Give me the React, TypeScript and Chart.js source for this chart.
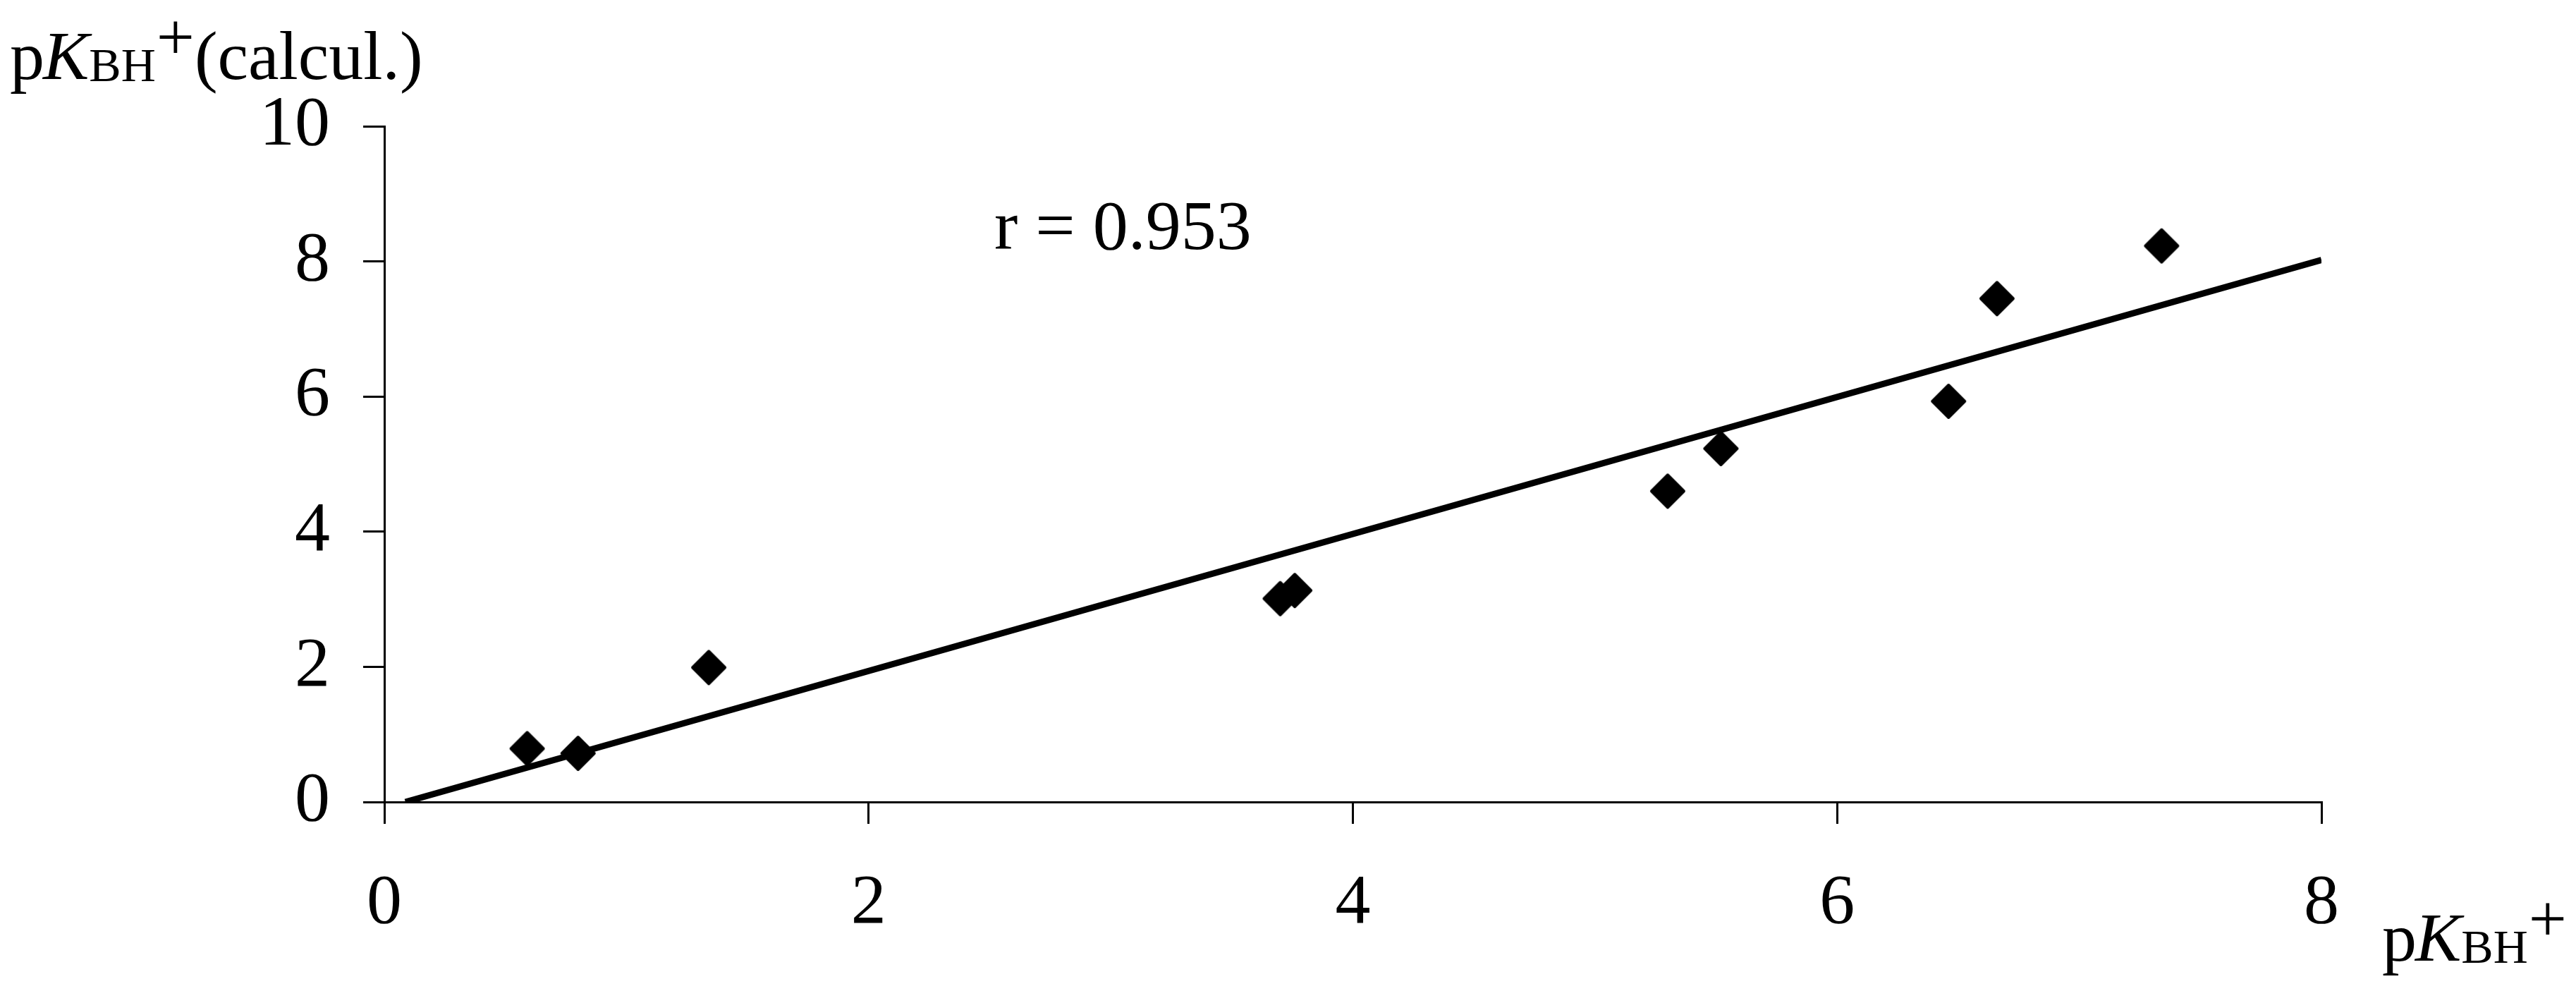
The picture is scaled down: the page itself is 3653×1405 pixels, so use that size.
import React, { useEffect, useRef } from "react";
import { Chart, registerables } from "chart.js";

Chart.register(...registerables);

// ---- data ----
const measuredX = [0.59, 0.8, 1.34, 3.7, 3.76, 5.3, 5.52, 6.46, 6.66, 7.34];
const calculatedY = [0.79, 0.72, 1.99, 3.01, 3.13, 4.6, 5.23, 5.93, 7.45, 8.23];
const fitLineX = [0.087, 8];
const fitLineY = [0, 8.02];
const xTickValues = [0, 2, 4, 6, 8];
const yTickValues = [0, 2, 4, 6, 8, 10];
const correlationText = "r = 0.953";
const yTitleParts = ["p", "K", "BH", "+", "(calcul.)"];
const xTitleParts = ["p", "K", "BH", "+"];

const W = 3653;
const H = 1405;
const FONT = '"Liberation Serif", "Times New Roman", serif';
const FS = 100;

function makeDiamond(size: number): HTMLCanvasElement {
  const c = document.createElement("canvas");
  c.width = size;
  c.height = size;
  const g = c.getContext("2d")!;
  const h = size / 2;
  const r = h - 3;
  g.beginPath();
  g.moveTo(h, h - r);
  g.lineTo(h + r, h);
  g.lineTo(h, h + r);
  g.lineTo(h - r, h);
  g.closePath();
  g.fillStyle = "#000";
  g.fill();
  g.lineJoin = "round";
  g.lineWidth = 4;
  g.strokeStyle = "#000";
  g.stroke();
  return c;
}

function drawTitle(ctx: CanvasRenderingContext2D, parts: string[], x: number, baseline: number) {
  const styles = [
    { font: `98px ${FONT}`, dy: 0, gap: 0 },
    { font: `italic 98px ${FONT}`, dy: 0, gap: -2 },
    { font: `68px ${FONT}`, dy: 3, gap: 0 },
    { font: `96px ${FONT}`, dy: -28, gap: 1 },
    { font: `98px ${FONT}`, dy: 0, gap: 0 },
  ];
  let cx = x;
  parts.forEach((t, i) => {
    const s = styles[i];
    ctx.font = s.font;
    cx += s.gap;
    ctx.fillText(t, cx, baseline + s.dy);
    cx += ctx.measureText(t).width;
  });
}

const textPlugin = {
  id: "customTexts",
  afterDraw(chart: any) {
    const ctx: CanvasRenderingContext2D = chart.ctx;
    ctx.save();
    ctx.fillStyle = "#000";
    ctx.textAlign = "left";
    ctx.textBaseline = "alphabetic";
    drawTitle(ctx, yTitleParts, 14, 112);
    drawTitle(ctx, xTitleParts, 3378, 1362);
    ctx.font = `${FS}px ${FONT}`;
    ctx.fillText(correlationText, 1410, 353);
    ctx.restore();
  },
};

export default function App() {
  const ref = useRef<HTMLCanvasElement | null>(null);

  useEffect(() => {
    if (!ref.current) return;
    const diamond = makeDiamond(52);
    const points = measuredX.map((x, i) => ({ x, y: calculatedY[i] }));
    const fit = fitLineX.map((x, i) => ({ x, y: fitLineY[i] }));

    const chart = new Chart(ref.current, {
      type: "scatter",
      data: {
        datasets: [
          {
            label: "fit",
            data: fit,
            showLine: true,
            borderColor: "#000",
            borderWidth: 9,
            pointRadius: 0,
            fill: false,
          },
          {
            label: "points",
            data: points,
            pointStyle: diamond as any,
            pointRadius: 25,
            backgroundColor: "#000",
            borderColor: "#000",
          },
        ],
      },
      options: {
        responsive: false,
        animation: false,
        devicePixelRatio: 1,
        layout: { padding: { top: 179, right: W - 3292, left: 0, bottom: 0 } },
        plugins: { legend: { display: false }, tooltip: { enabled: false } },
        scales: {
          x: {
            type: "linear",
            min: 0,
            max: 8,
            afterBuildTicks: (s: any) => {
              s.ticks = xTickValues.map((v) => ({ value: v }));
            },
            afterFit: (s: any) => {
              s.height = H - 1137;
            },
            ticks: {
              color: "#000",
              font: { family: FONT, size: FS },
              padding: 54,
              maxRotation: 0,
            },
            grid: {
              display: true,
              drawOnChartArea: false,
              drawTicks: true,
              tickLength: 31,
              color: "#000",
              lineWidth: 3,
            },
            border: { display: true, color: "#000", width: 3 },
          },
          y: {
            type: "linear",
            min: 0,
            max: 10,
            afterBuildTicks: (s: any) => {
              s.ticks = yTickValues.map((v) => ({ value: v }));
            },
            afterFit: (s: any) => {
              s.width = 545;
            },
            ticks: {
              color: "#000",
              font: { family: FONT, size: FS },
              padding: 47,
            },
            grid: {
              display: true,
              drawOnChartArea: false,
              drawTicks: true,
              tickLength: 30,
              color: "#000",
              lineWidth: 3,
            },
            border: { display: true, color: "#000", width: 3 },
          },
        },
      },
      plugins: [textPlugin],
    });
    return () => chart.destroy();
  }, []);

  return (
    <div style={{ position: "fixed", left: 0, top: 0, width: W, height: H, background: "#fff" }}>
      <canvas ref={ref} width={W} height={H} style={{ display: "block", width: W, height: H }} />
    </div>
  );
}
